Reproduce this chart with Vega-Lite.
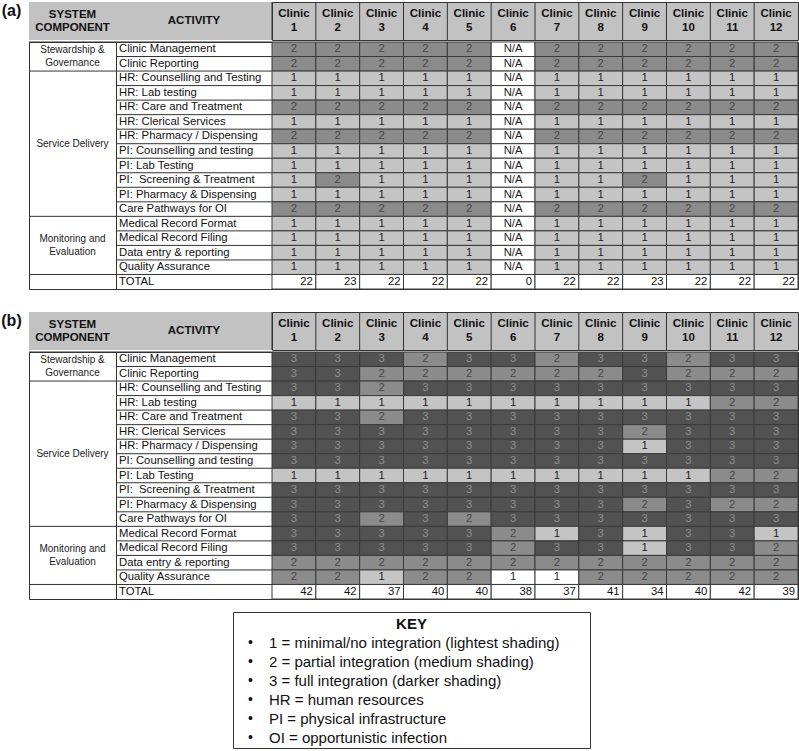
{
  "$schema": "https://vega.github.io/schema/vega-lite/v6.json",
  "padding": {"left": 0, "top": 1, "right": 0, "bottom": 0},
  "spacing": 0,
  "config": {"font": "Liberation Sans", "view": {"stroke": "#333333", "strokeWidth": 1}, "concat": {"spacing": 0}},
  "datasets": {
    "rows": [
      {"r": "Clinic Management", "g": "Stewardship & Governance"},
      {"r": "Clinic Reporting", "g": "Stewardship & Governance"},
      {"r": "HR: Counselling and Testing", "g": "Service Delivery"},
      {"r": "HR: Lab testing", "g": "Service Delivery"},
      {"r": "HR: Care and Treatment", "g": "Service Delivery"},
      {"r": "HR: Clerical Services", "g": "Service Delivery"},
      {"r": "HR: Pharmacy / Dispensing", "g": "Service Delivery"},
      {"r": "PI: Counselling and testing", "g": "Service Delivery"},
      {"r": "PI: Lab Testing", "g": "Service Delivery"},
      {"r": "PI:  Screening & Treatment", "g": "Service Delivery"},
      {"r": "PI: Pharmacy & Dispensing", "g": "Service Delivery"},
      {"r": "Care Pathways for OI", "g": "Service Delivery"},
      {"r": "Medical Record Format", "g": "Monitoring and Evaluation"},
      {"r": "Medical Record Filing", "g": "Monitoring and Evaluation"},
      {"r": "Data entry & reporting", "g": "Monitoring and Evaluation"},
      {"r": "Quality Assurance", "g": "Monitoring and Evaluation"},
      {"r": "TOTAL", "g": ""}
    ],
    "totals": [
      {"p": "a", "c": 1, "t": 22}, {"p": "a", "c": 2, "t": 23}, {"p": "a", "c": 3, "t": 22}, {"p": "a", "c": 4, "t": 22},
      {"p": "a", "c": 5, "t": 22}, {"p": "a", "c": 6, "t": 0}, {"p": "a", "c": 7, "t": 22}, {"p": "a", "c": 8, "t": 22},
      {"p": "a", "c": 9, "t": 23}, {"p": "a", "c": 10, "t": 22}, {"p": "a", "c": 11, "t": 22}, {"p": "a", "c": 12, "t": 22},
      {"p": "b", "c": 1, "t": 42}, {"p": "b", "c": 2, "t": 42}, {"p": "b", "c": 3, "t": 37}, {"p": "b", "c": 4, "t": 40},
      {"p": "b", "c": 5, "t": 40}, {"p": "b", "c": 6, "t": 38}, {"p": "b", "c": 7, "t": 37}, {"p": "b", "c": 8, "t": 41},
      {"p": "b", "c": 9, "t": 34}, {"p": "b", "c": 10, "t": 40}, {"p": "b", "c": 11, "t": 42}, {"p": "b", "c": 12, "t": 39}
    ],
    "key": [
      {"k": "1 = minimal/no integration (lightest shading)"},
      {"k": "2 = partial integration (medium shading)"},
      {"k": "3 = full integration (darker shading)"},
      {"k": "HR = human resources"},
      {"k": "PI = physical infrastructure"},
      {"k": "OI = opportunistic infection"}
    ],
    "cells": [
      {"p":"a","r":"Clinic Management","c":1,"v":"2"},{"p":"a","r":"Clinic Management","c":2,"v":"2"},{"p":"a","r":"Clinic Management","c":3,"v":"2"},{"p":"a","r":"Clinic Management","c":4,"v":"2"},{"p":"a","r":"Clinic Management","c":5,"v":"2"},{"p":"a","r":"Clinic Management","c":6,"v":"N/A"},{"p":"a","r":"Clinic Management","c":7,"v":"2"},{"p":"a","r":"Clinic Management","c":8,"v":"2"},{"p":"a","r":"Clinic Management","c":9,"v":"2"},{"p":"a","r":"Clinic Management","c":10,"v":"2"},{"p":"a","r":"Clinic Management","c":11,"v":"2"},{"p":"a","r":"Clinic Management","c":12,"v":"2"},
      {"p":"a","r":"Clinic Reporting","c":1,"v":"2"},{"p":"a","r":"Clinic Reporting","c":2,"v":"2"},{"p":"a","r":"Clinic Reporting","c":3,"v":"2"},{"p":"a","r":"Clinic Reporting","c":4,"v":"2"},{"p":"a","r":"Clinic Reporting","c":5,"v":"2"},{"p":"a","r":"Clinic Reporting","c":6,"v":"N/A"},{"p":"a","r":"Clinic Reporting","c":7,"v":"2"},{"p":"a","r":"Clinic Reporting","c":8,"v":"2"},{"p":"a","r":"Clinic Reporting","c":9,"v":"2"},{"p":"a","r":"Clinic Reporting","c":10,"v":"2"},{"p":"a","r":"Clinic Reporting","c":11,"v":"2"},{"p":"a","r":"Clinic Reporting","c":12,"v":"2"},
      {"p":"a","r":"HR: Counselling and Testing","c":1,"v":"1"},{"p":"a","r":"HR: Counselling and Testing","c":2,"v":"1"},{"p":"a","r":"HR: Counselling and Testing","c":3,"v":"1"},{"p":"a","r":"HR: Counselling and Testing","c":4,"v":"1"},{"p":"a","r":"HR: Counselling and Testing","c":5,"v":"1"},{"p":"a","r":"HR: Counselling and Testing","c":6,"v":"N/A"},{"p":"a","r":"HR: Counselling and Testing","c":7,"v":"1"},{"p":"a","r":"HR: Counselling and Testing","c":8,"v":"1"},{"p":"a","r":"HR: Counselling and Testing","c":9,"v":"1"},{"p":"a","r":"HR: Counselling and Testing","c":10,"v":"1"},{"p":"a","r":"HR: Counselling and Testing","c":11,"v":"1"},{"p":"a","r":"HR: Counselling and Testing","c":12,"v":"1"},
      {"p":"a","r":"HR: Lab testing","c":1,"v":"1"},{"p":"a","r":"HR: Lab testing","c":2,"v":"1"},{"p":"a","r":"HR: Lab testing","c":3,"v":"1"},{"p":"a","r":"HR: Lab testing","c":4,"v":"1"},{"p":"a","r":"HR: Lab testing","c":5,"v":"1"},{"p":"a","r":"HR: Lab testing","c":6,"v":"N/A"},{"p":"a","r":"HR: Lab testing","c":7,"v":"1"},{"p":"a","r":"HR: Lab testing","c":8,"v":"1"},{"p":"a","r":"HR: Lab testing","c":9,"v":"1"},{"p":"a","r":"HR: Lab testing","c":10,"v":"1"},{"p":"a","r":"HR: Lab testing","c":11,"v":"1"},{"p":"a","r":"HR: Lab testing","c":12,"v":"1"},
      {"p":"a","r":"HR: Care and Treatment","c":1,"v":"2"},{"p":"a","r":"HR: Care and Treatment","c":2,"v":"2"},{"p":"a","r":"HR: Care and Treatment","c":3,"v":"2"},{"p":"a","r":"HR: Care and Treatment","c":4,"v":"2"},{"p":"a","r":"HR: Care and Treatment","c":5,"v":"2"},{"p":"a","r":"HR: Care and Treatment","c":6,"v":"N/A"},{"p":"a","r":"HR: Care and Treatment","c":7,"v":"2"},{"p":"a","r":"HR: Care and Treatment","c":8,"v":"2"},{"p":"a","r":"HR: Care and Treatment","c":9,"v":"2"},{"p":"a","r":"HR: Care and Treatment","c":10,"v":"2"},{"p":"a","r":"HR: Care and Treatment","c":11,"v":"2"},{"p":"a","r":"HR: Care and Treatment","c":12,"v":"2"},
      {"p":"a","r":"HR: Clerical Services","c":1,"v":"1"},{"p":"a","r":"HR: Clerical Services","c":2,"v":"1"},{"p":"a","r":"HR: Clerical Services","c":3,"v":"1"},{"p":"a","r":"HR: Clerical Services","c":4,"v":"1"},{"p":"a","r":"HR: Clerical Services","c":5,"v":"1"},{"p":"a","r":"HR: Clerical Services","c":6,"v":"N/A"},{"p":"a","r":"HR: Clerical Services","c":7,"v":"1"},{"p":"a","r":"HR: Clerical Services","c":8,"v":"1"},{"p":"a","r":"HR: Clerical Services","c":9,"v":"1"},{"p":"a","r":"HR: Clerical Services","c":10,"v":"1"},{"p":"a","r":"HR: Clerical Services","c":11,"v":"1"},{"p":"a","r":"HR: Clerical Services","c":12,"v":"1"},
      {"p":"a","r":"HR: Pharmacy / Dispensing","c":1,"v":"2"},{"p":"a","r":"HR: Pharmacy / Dispensing","c":2,"v":"2"},{"p":"a","r":"HR: Pharmacy / Dispensing","c":3,"v":"2"},{"p":"a","r":"HR: Pharmacy / Dispensing","c":4,"v":"2"},{"p":"a","r":"HR: Pharmacy / Dispensing","c":5,"v":"2"},{"p":"a","r":"HR: Pharmacy / Dispensing","c":6,"v":"N/A"},{"p":"a","r":"HR: Pharmacy / Dispensing","c":7,"v":"2"},{"p":"a","r":"HR: Pharmacy / Dispensing","c":8,"v":"2"},{"p":"a","r":"HR: Pharmacy / Dispensing","c":9,"v":"2"},{"p":"a","r":"HR: Pharmacy / Dispensing","c":10,"v":"2"},{"p":"a","r":"HR: Pharmacy / Dispensing","c":11,"v":"2"},{"p":"a","r":"HR: Pharmacy / Dispensing","c":12,"v":"2"},
      {"p":"a","r":"PI: Counselling and testing","c":1,"v":"1"},{"p":"a","r":"PI: Counselling and testing","c":2,"v":"1"},{"p":"a","r":"PI: Counselling and testing","c":3,"v":"1"},{"p":"a","r":"PI: Counselling and testing","c":4,"v":"1"},{"p":"a","r":"PI: Counselling and testing","c":5,"v":"1"},{"p":"a","r":"PI: Counselling and testing","c":6,"v":"N/A"},{"p":"a","r":"PI: Counselling and testing","c":7,"v":"1"},{"p":"a","r":"PI: Counselling and testing","c":8,"v":"1"},{"p":"a","r":"PI: Counselling and testing","c":9,"v":"1"},{"p":"a","r":"PI: Counselling and testing","c":10,"v":"1"},{"p":"a","r":"PI: Counselling and testing","c":11,"v":"1"},{"p":"a","r":"PI: Counselling and testing","c":12,"v":"1"},
      {"p":"a","r":"PI: Lab Testing","c":1,"v":"1"},{"p":"a","r":"PI: Lab Testing","c":2,"v":"1"},{"p":"a","r":"PI: Lab Testing","c":3,"v":"1"},{"p":"a","r":"PI: Lab Testing","c":4,"v":"1"},{"p":"a","r":"PI: Lab Testing","c":5,"v":"1"},{"p":"a","r":"PI: Lab Testing","c":6,"v":"N/A"},{"p":"a","r":"PI: Lab Testing","c":7,"v":"1"},{"p":"a","r":"PI: Lab Testing","c":8,"v":"1"},{"p":"a","r":"PI: Lab Testing","c":9,"v":"1"},{"p":"a","r":"PI: Lab Testing","c":10,"v":"1"},{"p":"a","r":"PI: Lab Testing","c":11,"v":"1"},{"p":"a","r":"PI: Lab Testing","c":12,"v":"1"},
      {"p":"a","r":"PI:  Screening & Treatment","c":1,"v":"1"},{"p":"a","r":"PI:  Screening & Treatment","c":2,"v":"2"},{"p":"a","r":"PI:  Screening & Treatment","c":3,"v":"1"},{"p":"a","r":"PI:  Screening & Treatment","c":4,"v":"1"},{"p":"a","r":"PI:  Screening & Treatment","c":5,"v":"1"},{"p":"a","r":"PI:  Screening & Treatment","c":6,"v":"N/A"},{"p":"a","r":"PI:  Screening & Treatment","c":7,"v":"1"},{"p":"a","r":"PI:  Screening & Treatment","c":8,"v":"1"},{"p":"a","r":"PI:  Screening & Treatment","c":9,"v":"2"},{"p":"a","r":"PI:  Screening & Treatment","c":10,"v":"1"},{"p":"a","r":"PI:  Screening & Treatment","c":11,"v":"1"},{"p":"a","r":"PI:  Screening & Treatment","c":12,"v":"1"},
      {"p":"a","r":"PI: Pharmacy & Dispensing","c":1,"v":"1"},{"p":"a","r":"PI: Pharmacy & Dispensing","c":2,"v":"1"},{"p":"a","r":"PI: Pharmacy & Dispensing","c":3,"v":"1"},{"p":"a","r":"PI: Pharmacy & Dispensing","c":4,"v":"1"},{"p":"a","r":"PI: Pharmacy & Dispensing","c":5,"v":"1"},{"p":"a","r":"PI: Pharmacy & Dispensing","c":6,"v":"N/A"},{"p":"a","r":"PI: Pharmacy & Dispensing","c":7,"v":"1"},{"p":"a","r":"PI: Pharmacy & Dispensing","c":8,"v":"1"},{"p":"a","r":"PI: Pharmacy & Dispensing","c":9,"v":"1"},{"p":"a","r":"PI: Pharmacy & Dispensing","c":10,"v":"1"},{"p":"a","r":"PI: Pharmacy & Dispensing","c":11,"v":"1"},{"p":"a","r":"PI: Pharmacy & Dispensing","c":12,"v":"1"},
      {"p":"a","r":"Care Pathways for OI","c":1,"v":"2"},{"p":"a","r":"Care Pathways for OI","c":2,"v":"2"},{"p":"a","r":"Care Pathways for OI","c":3,"v":"2"},{"p":"a","r":"Care Pathways for OI","c":4,"v":"2"},{"p":"a","r":"Care Pathways for OI","c":5,"v":"2"},{"p":"a","r":"Care Pathways for OI","c":6,"v":"N/A"},{"p":"a","r":"Care Pathways for OI","c":7,"v":"2"},{"p":"a","r":"Care Pathways for OI","c":8,"v":"2"},{"p":"a","r":"Care Pathways for OI","c":9,"v":"2"},{"p":"a","r":"Care Pathways for OI","c":10,"v":"2"},{"p":"a","r":"Care Pathways for OI","c":11,"v":"2"},{"p":"a","r":"Care Pathways for OI","c":12,"v":"2"},
      {"p":"a","r":"Medical Record Format","c":1,"v":"1"},{"p":"a","r":"Medical Record Format","c":2,"v":"1"},{"p":"a","r":"Medical Record Format","c":3,"v":"1"},{"p":"a","r":"Medical Record Format","c":4,"v":"1"},{"p":"a","r":"Medical Record Format","c":5,"v":"1"},{"p":"a","r":"Medical Record Format","c":6,"v":"N/A"},{"p":"a","r":"Medical Record Format","c":7,"v":"1"},{"p":"a","r":"Medical Record Format","c":8,"v":"1"},{"p":"a","r":"Medical Record Format","c":9,"v":"1"},{"p":"a","r":"Medical Record Format","c":10,"v":"1"},{"p":"a","r":"Medical Record Format","c":11,"v":"1"},{"p":"a","r":"Medical Record Format","c":12,"v":"1"},
      {"p":"a","r":"Medical Record Filing","c":1,"v":"1"},{"p":"a","r":"Medical Record Filing","c":2,"v":"1"},{"p":"a","r":"Medical Record Filing","c":3,"v":"1"},{"p":"a","r":"Medical Record Filing","c":4,"v":"1"},{"p":"a","r":"Medical Record Filing","c":5,"v":"1"},{"p":"a","r":"Medical Record Filing","c":6,"v":"N/A"},{"p":"a","r":"Medical Record Filing","c":7,"v":"1"},{"p":"a","r":"Medical Record Filing","c":8,"v":"1"},{"p":"a","r":"Medical Record Filing","c":9,"v":"1"},{"p":"a","r":"Medical Record Filing","c":10,"v":"1"},{"p":"a","r":"Medical Record Filing","c":11,"v":"1"},{"p":"a","r":"Medical Record Filing","c":12,"v":"1"},
      {"p":"a","r":"Data entry & reporting","c":1,"v":"1"},{"p":"a","r":"Data entry & reporting","c":2,"v":"1"},{"p":"a","r":"Data entry & reporting","c":3,"v":"1"},{"p":"a","r":"Data entry & reporting","c":4,"v":"1"},{"p":"a","r":"Data entry & reporting","c":5,"v":"1"},{"p":"a","r":"Data entry & reporting","c":6,"v":"N/A"},{"p":"a","r":"Data entry & reporting","c":7,"v":"1"},{"p":"a","r":"Data entry & reporting","c":8,"v":"1"},{"p":"a","r":"Data entry & reporting","c":9,"v":"1"},{"p":"a","r":"Data entry & reporting","c":10,"v":"1"},{"p":"a","r":"Data entry & reporting","c":11,"v":"1"},{"p":"a","r":"Data entry & reporting","c":12,"v":"1"},
      {"p":"a","r":"Quality Assurance","c":1,"v":"1"},{"p":"a","r":"Quality Assurance","c":2,"v":"1"},{"p":"a","r":"Quality Assurance","c":3,"v":"1"},{"p":"a","r":"Quality Assurance","c":4,"v":"1"},{"p":"a","r":"Quality Assurance","c":5,"v":"1"},{"p":"a","r":"Quality Assurance","c":6,"v":"N/A"},{"p":"a","r":"Quality Assurance","c":7,"v":"1"},{"p":"a","r":"Quality Assurance","c":8,"v":"1"},{"p":"a","r":"Quality Assurance","c":9,"v":"1"},{"p":"a","r":"Quality Assurance","c":10,"v":"1"},{"p":"a","r":"Quality Assurance","c":11,"v":"1"},{"p":"a","r":"Quality Assurance","c":12,"v":"1"},

      {"p":"b","r":"Clinic Management","c":1,"v":"3"},{"p":"b","r":"Clinic Management","c":2,"v":"3"},{"p":"b","r":"Clinic Management","c":3,"v":"3"},{"p":"b","r":"Clinic Management","c":4,"v":"2"},{"p":"b","r":"Clinic Management","c":5,"v":"3"},{"p":"b","r":"Clinic Management","c":6,"v":"3"},{"p":"b","r":"Clinic Management","c":7,"v":"2"},{"p":"b","r":"Clinic Management","c":8,"v":"3"},{"p":"b","r":"Clinic Management","c":9,"v":"3"},{"p":"b","r":"Clinic Management","c":10,"v":"2"},{"p":"b","r":"Clinic Management","c":11,"v":"3"},{"p":"b","r":"Clinic Management","c":12,"v":"3"},
      {"p":"b","r":"Clinic Reporting","c":1,"v":"3"},{"p":"b","r":"Clinic Reporting","c":2,"v":"3"},{"p":"b","r":"Clinic Reporting","c":3,"v":"2"},{"p":"b","r":"Clinic Reporting","c":4,"v":"2"},{"p":"b","r":"Clinic Reporting","c":5,"v":"2"},{"p":"b","r":"Clinic Reporting","c":6,"v":"2"},{"p":"b","r":"Clinic Reporting","c":7,"v":"2"},{"p":"b","r":"Clinic Reporting","c":8,"v":"2"},{"p":"b","r":"Clinic Reporting","c":9,"v":"3"},{"p":"b","r":"Clinic Reporting","c":10,"v":"2"},{"p":"b","r":"Clinic Reporting","c":11,"v":"2"},{"p":"b","r":"Clinic Reporting","c":12,"v":"2"},
      {"p":"b","r":"HR: Counselling and Testing","c":1,"v":"3"},{"p":"b","r":"HR: Counselling and Testing","c":2,"v":"3"},{"p":"b","r":"HR: Counselling and Testing","c":3,"v":"2"},{"p":"b","r":"HR: Counselling and Testing","c":4,"v":"3"},{"p":"b","r":"HR: Counselling and Testing","c":5,"v":"3"},{"p":"b","r":"HR: Counselling and Testing","c":6,"v":"3"},{"p":"b","r":"HR: Counselling and Testing","c":7,"v":"3"},{"p":"b","r":"HR: Counselling and Testing","c":8,"v":"3"},{"p":"b","r":"HR: Counselling and Testing","c":9,"v":"3"},{"p":"b","r":"HR: Counselling and Testing","c":10,"v":"3"},{"p":"b","r":"HR: Counselling and Testing","c":11,"v":"3"},{"p":"b","r":"HR: Counselling and Testing","c":12,"v":"3"},
      {"p":"b","r":"HR: Lab testing","c":1,"v":"1"},{"p":"b","r":"HR: Lab testing","c":2,"v":"1"},{"p":"b","r":"HR: Lab testing","c":3,"v":"1"},{"p":"b","r":"HR: Lab testing","c":4,"v":"1"},{"p":"b","r":"HR: Lab testing","c":5,"v":"1"},{"p":"b","r":"HR: Lab testing","c":6,"v":"1"},{"p":"b","r":"HR: Lab testing","c":7,"v":"1"},{"p":"b","r":"HR: Lab testing","c":8,"v":"1"},{"p":"b","r":"HR: Lab testing","c":9,"v":"1"},{"p":"b","r":"HR: Lab testing","c":10,"v":"1"},{"p":"b","r":"HR: Lab testing","c":11,"v":"2"},{"p":"b","r":"HR: Lab testing","c":12,"v":"2"},
      {"p":"b","r":"HR: Care and Treatment","c":1,"v":"3"},{"p":"b","r":"HR: Care and Treatment","c":2,"v":"3"},{"p":"b","r":"HR: Care and Treatment","c":3,"v":"2"},{"p":"b","r":"HR: Care and Treatment","c":4,"v":"3"},{"p":"b","r":"HR: Care and Treatment","c":5,"v":"3"},{"p":"b","r":"HR: Care and Treatment","c":6,"v":"3"},{"p":"b","r":"HR: Care and Treatment","c":7,"v":"3"},{"p":"b","r":"HR: Care and Treatment","c":8,"v":"3"},{"p":"b","r":"HR: Care and Treatment","c":9,"v":"3"},{"p":"b","r":"HR: Care and Treatment","c":10,"v":"3"},{"p":"b","r":"HR: Care and Treatment","c":11,"v":"3"},{"p":"b","r":"HR: Care and Treatment","c":12,"v":"3"},
      {"p":"b","r":"HR: Clerical Services","c":1,"v":"3"},{"p":"b","r":"HR: Clerical Services","c":2,"v":"3"},{"p":"b","r":"HR: Clerical Services","c":3,"v":"3"},{"p":"b","r":"HR: Clerical Services","c":4,"v":"3"},{"p":"b","r":"HR: Clerical Services","c":5,"v":"3"},{"p":"b","r":"HR: Clerical Services","c":6,"v":"3"},{"p":"b","r":"HR: Clerical Services","c":7,"v":"3"},{"p":"b","r":"HR: Clerical Services","c":8,"v":"3"},{"p":"b","r":"HR: Clerical Services","c":9,"v":"2"},{"p":"b","r":"HR: Clerical Services","c":10,"v":"3"},{"p":"b","r":"HR: Clerical Services","c":11,"v":"3"},{"p":"b","r":"HR: Clerical Services","c":12,"v":"3"},
      {"p":"b","r":"HR: Pharmacy / Dispensing","c":1,"v":"3"},{"p":"b","r":"HR: Pharmacy / Dispensing","c":2,"v":"3"},{"p":"b","r":"HR: Pharmacy / Dispensing","c":3,"v":"3"},{"p":"b","r":"HR: Pharmacy / Dispensing","c":4,"v":"3"},{"p":"b","r":"HR: Pharmacy / Dispensing","c":5,"v":"3"},{"p":"b","r":"HR: Pharmacy / Dispensing","c":6,"v":"3"},{"p":"b","r":"HR: Pharmacy / Dispensing","c":7,"v":"3"},{"p":"b","r":"HR: Pharmacy / Dispensing","c":8,"v":"3"},{"p":"b","r":"HR: Pharmacy / Dispensing","c":9,"v":"1"},{"p":"b","r":"HR: Pharmacy / Dispensing","c":10,"v":"3"},{"p":"b","r":"HR: Pharmacy / Dispensing","c":11,"v":"3"},{"p":"b","r":"HR: Pharmacy / Dispensing","c":12,"v":"3"},
      {"p":"b","r":"PI: Counselling and testing","c":1,"v":"3"},{"p":"b","r":"PI: Counselling and testing","c":2,"v":"3"},{"p":"b","r":"PI: Counselling and testing","c":3,"v":"3"},{"p":"b","r":"PI: Counselling and testing","c":4,"v":"3"},{"p":"b","r":"PI: Counselling and testing","c":5,"v":"3"},{"p":"b","r":"PI: Counselling and testing","c":6,"v":"3"},{"p":"b","r":"PI: Counselling and testing","c":7,"v":"3"},{"p":"b","r":"PI: Counselling and testing","c":8,"v":"3"},{"p":"b","r":"PI: Counselling and testing","c":9,"v":"3"},{"p":"b","r":"PI: Counselling and testing","c":10,"v":"3"},{"p":"b","r":"PI: Counselling and testing","c":11,"v":"3"},{"p":"b","r":"PI: Counselling and testing","c":12,"v":"3"},
      {"p":"b","r":"PI: Lab Testing","c":1,"v":"1"},{"p":"b","r":"PI: Lab Testing","c":2,"v":"1"},{"p":"b","r":"PI: Lab Testing","c":3,"v":"1"},{"p":"b","r":"PI: Lab Testing","c":4,"v":"1"},{"p":"b","r":"PI: Lab Testing","c":5,"v":"1"},{"p":"b","r":"PI: Lab Testing","c":6,"v":"1"},{"p":"b","r":"PI: Lab Testing","c":7,"v":"1"},{"p":"b","r":"PI: Lab Testing","c":8,"v":"1"},{"p":"b","r":"PI: Lab Testing","c":9,"v":"1"},{"p":"b","r":"PI: Lab Testing","c":10,"v":"1"},{"p":"b","r":"PI: Lab Testing","c":11,"v":"2"},{"p":"b","r":"PI: Lab Testing","c":12,"v":"2"},
      {"p":"b","r":"PI:  Screening & Treatment","c":1,"v":"3"},{"p":"b","r":"PI:  Screening & Treatment","c":2,"v":"3"},{"p":"b","r":"PI:  Screening & Treatment","c":3,"v":"3"},{"p":"b","r":"PI:  Screening & Treatment","c":4,"v":"3"},{"p":"b","r":"PI:  Screening & Treatment","c":5,"v":"3"},{"p":"b","r":"PI:  Screening & Treatment","c":6,"v":"3"},{"p":"b","r":"PI:  Screening & Treatment","c":7,"v":"3"},{"p":"b","r":"PI:  Screening & Treatment","c":8,"v":"3"},{"p":"b","r":"PI:  Screening & Treatment","c":9,"v":"3"},{"p":"b","r":"PI:  Screening & Treatment","c":10,"v":"3"},{"p":"b","r":"PI:  Screening & Treatment","c":11,"v":"3"},{"p":"b","r":"PI:  Screening & Treatment","c":12,"v":"3"},
      {"p":"b","r":"PI: Pharmacy & Dispensing","c":1,"v":"3"},{"p":"b","r":"PI: Pharmacy & Dispensing","c":2,"v":"3"},{"p":"b","r":"PI: Pharmacy & Dispensing","c":3,"v":"3"},{"p":"b","r":"PI: Pharmacy & Dispensing","c":4,"v":"3"},{"p":"b","r":"PI: Pharmacy & Dispensing","c":5,"v":"3"},{"p":"b","r":"PI: Pharmacy & Dispensing","c":6,"v":"3"},{"p":"b","r":"PI: Pharmacy & Dispensing","c":7,"v":"3"},{"p":"b","r":"PI: Pharmacy & Dispensing","c":8,"v":"3"},{"p":"b","r":"PI: Pharmacy & Dispensing","c":9,"v":"2"},{"p":"b","r":"PI: Pharmacy & Dispensing","c":10,"v":"3"},{"p":"b","r":"PI: Pharmacy & Dispensing","c":11,"v":"2"},{"p":"b","r":"PI: Pharmacy & Dispensing","c":12,"v":"2"},
      {"p":"b","r":"Care Pathways for OI","c":1,"v":"3"},{"p":"b","r":"Care Pathways for OI","c":2,"v":"3"},{"p":"b","r":"Care Pathways for OI","c":3,"v":"2"},{"p":"b","r":"Care Pathways for OI","c":4,"v":"3"},{"p":"b","r":"Care Pathways for OI","c":5,"v":"2"},{"p":"b","r":"Care Pathways for OI","c":6,"v":"3"},{"p":"b","r":"Care Pathways for OI","c":7,"v":"3"},{"p":"b","r":"Care Pathways for OI","c":8,"v":"3"},{"p":"b","r":"Care Pathways for OI","c":9,"v":"3"},{"p":"b","r":"Care Pathways for OI","c":10,"v":"3"},{"p":"b","r":"Care Pathways for OI","c":11,"v":"3"},{"p":"b","r":"Care Pathways for OI","c":12,"v":"3"},
      {"p":"b","r":"Medical Record Format","c":1,"v":"3"},{"p":"b","r":"Medical Record Format","c":2,"v":"3"},{"p":"b","r":"Medical Record Format","c":3,"v":"3"},{"p":"b","r":"Medical Record Format","c":4,"v":"3"},{"p":"b","r":"Medical Record Format","c":5,"v":"3"},{"p":"b","r":"Medical Record Format","c":6,"v":"2"},{"p":"b","r":"Medical Record Format","c":7,"v":"1"},{"p":"b","r":"Medical Record Format","c":8,"v":"3"},{"p":"b","r":"Medical Record Format","c":9,"v":"1"},{"p":"b","r":"Medical Record Format","c":10,"v":"3"},{"p":"b","r":"Medical Record Format","c":11,"v":"3"},{"p":"b","r":"Medical Record Format","c":12,"v":"1"},
      {"p":"b","r":"Medical Record Filing","c":1,"v":"3"},{"p":"b","r":"Medical Record Filing","c":2,"v":"3"},{"p":"b","r":"Medical Record Filing","c":3,"v":"3"},{"p":"b","r":"Medical Record Filing","c":4,"v":"3"},{"p":"b","r":"Medical Record Filing","c":5,"v":"3"},{"p":"b","r":"Medical Record Filing","c":6,"v":"2"},{"p":"b","r":"Medical Record Filing","c":7,"v":"3"},{"p":"b","r":"Medical Record Filing","c":8,"v":"3"},{"p":"b","r":"Medical Record Filing","c":9,"v":"1"},{"p":"b","r":"Medical Record Filing","c":10,"v":"3"},{"p":"b","r":"Medical Record Filing","c":11,"v":"3"},{"p":"b","r":"Medical Record Filing","c":12,"v":"2"},
      {"p":"b","r":"Data entry & reporting","c":1,"v":"2"},{"p":"b","r":"Data entry & reporting","c":2,"v":"2"},{"p":"b","r":"Data entry & reporting","c":3,"v":"2"},{"p":"b","r":"Data entry & reporting","c":4,"v":"2"},{"p":"b","r":"Data entry & reporting","c":5,"v":"2"},{"p":"b","r":"Data entry & reporting","c":6,"v":"2"},{"p":"b","r":"Data entry & reporting","c":7,"v":"2"},{"p":"b","r":"Data entry & reporting","c":8,"v":"2"},{"p":"b","r":"Data entry & reporting","c":9,"v":"2"},{"p":"b","r":"Data entry & reporting","c":10,"v":"2"},{"p":"b","r":"Data entry & reporting","c":11,"v":"2"},{"p":"b","r":"Data entry & reporting","c":12,"v":"2"},
      {"p":"b","r":"Quality Assurance","c":1,"v":"2"},{"p":"b","r":"Quality Assurance","c":2,"v":"2"},{"p":"b","r":"Quality Assurance","c":3,"v":"1"},{"p":"b","r":"Quality Assurance","c":4,"v":"2"},{"p":"b","r":"Quality Assurance","c":5,"v":"2"},{"p":"b","r":"Quality Assurance","c":6,"v":"1","u":true},{"p":"b","r":"Quality Assurance","c":7,"v":"1","u":true},{"p":"b","r":"Quality Assurance","c":8,"v":"2"},{"p":"b","r":"Quality Assurance","c":9,"v":"2"},{"p":"b","r":"Quality Assurance","c":10,"v":"2"},{"p":"b","r":"Quality Assurance","c":11,"v":"2"},{"p":"b","r":"Quality Assurance","c":12,"v":"2"}
    ]
  },
  "vconcat": [
    {"spacing": 0, "bounds": "flush", "hconcat": [
      {"width": 29, "height": 38, "view": {"stroke": null}, "data": {"values": [{"l": "(a)"}]},
       "mark": {"type": "text", "fontSize": 16, "fontWeight": "bold", "dx": -3, "dy": -10, "color": "#111"},
       "encoding": {"text": {"field": "l"}}},
      {"width": 87, "height": 38, "view": {"fill": "#c2c2c2"}, "data": {"values": [{}]},
       "mark": {"type": "text", "fontSize": 11.5, "fontWeight": "bold", "lineBreak": "\n", "lineHeight": 12.5, "dy": -6, "color": "#111"},
       "encoding": {"text": {"value": "SYSTEM\nCOMPONENT"}}},
      {"width": 156, "height": 38, "view": {"fill": "#c2c2c2"}, "data": {"values": [{}]},
       "mark": {"type": "text", "fontSize": 11.5, "fontWeight": "bold", "color": "#111"},
       "encoding": {"text": {"value": "ACTIVITY"}}},
      {"width": 526, "height": 38, "view": {"fill": "#c2c2c2"}, "data": {"name": "totals"},
       "transform": [{"filter": "datum.p == 'a'"}, {"calculate": "'Clinic\\n' + datum.c", "as": "h"}],
       "layer": [
         {"mark": {"type": "rule", "color": "#333333"},
          "encoding": {"x": {"field": "c", "type": "ordinal", "bandPosition": 0, "scale": {"type": "band", "domain": [1,2,3,4,5,6,7,8,9,10,11,12], "paddingInner": 0, "paddingOuter": 0}, "axis": null}}},
         {"mark": {"type": "text", "fontSize": 11.5, "fontWeight": "bold", "lineBreak": "\n", "lineHeight": 14, "dy": -7, "color": "#111"},
          "encoding": {"x": {"field": "c", "type": "ordinal", "axis": null}, "text": {"field": "h"}}}
       ]}
    ]},
    {"spacing": 0, "bounds": "flush", "hconcat": [
      {"width": 29, "height": 247, "view": {"stroke": null}, "data": {"values": [{}]}, "mark": "text", "encoding": {"text": {"value": ""}}},
      {"width": 87, "height": 247, "data": {"name": "rows"},
       "transform": [{"window": [{"op": "row_number", "as": "rn"}], "groupby": ["g"]}, {"joinaggregate": [{"op": "count", "as": "n"}], "groupby": ["g"]},
                     {"calculate": "replace(replace(datum.g, ' Governance', '\\nGovernance'), ' Evaluation', '\\nEvaluation')", "as": "lbl"}],
       "layer": [
         {"transform": [{"filter": "datum.rn == 1"}], "mark": {"type": "rule", "color": "#333333"},
          "encoding": {"y": {"field": "r", "type": "nominal", "bandPosition": 0, "axis": null, "scale": {"type": "band", "domain": ["Clinic Management","Clinic Reporting","HR: Counselling and Testing","HR: Lab testing","HR: Care and Treatment","HR: Clerical Services","HR: Pharmacy / Dispensing","PI: Counselling and testing","PI: Lab Testing","PI:  Screening & Treatment","PI: Pharmacy & Dispensing","Care Pathways for OI","Medical Record Format","Medical Record Filing","Data entry & reporting","Quality Assurance","TOTAL"], "paddingInner": 0, "paddingOuter": 0}}}},
         {"transform": [{"filter": "datum.n > 1 && datum.rn == datum.n / 2 && indexof(datum.lbl, '\\n') >= 0"}],
          "mark": {"type": "text", "fontSize": 10, "lineBreak": "\n", "lineHeight": 12.5, "baseline": "middle", "dy": -6.25, "color": "#222"},
          "encoding": {"y": {"field": "r", "type": "nominal", "bandPosition": 1, "axis": null}, "text": {"field": "lbl"}}},
         {"transform": [{"filter": "datum.n > 1 && datum.rn == datum.n / 2 && indexof(datum.lbl, '\\n') < 0"}],
          "mark": {"type": "text", "fontSize": 10, "baseline": "middle", "color": "#222"},
          "encoding": {"y": {"field": "r", "type": "nominal", "bandPosition": 1, "axis": null}, "text": {"field": "lbl"}}}
       ]},
      {"width": 156, "height": 247, "data": {"name": "rows"},
       "transform": [{"calculate": "replace(datum.r, '  ', '\u00a0 ')", "as": "shown"}],
       "layer": [
         {"mark": {"type": "rule", "color": "#333333"},
          "encoding": {"y": {"field": "r", "type": "nominal", "bandPosition": 0, "axis": null, "scale": {"type": "band", "domain": ["Clinic Management","Clinic Reporting","HR: Counselling and Testing","HR: Lab testing","HR: Care and Treatment","HR: Clerical Services","HR: Pharmacy / Dispensing","PI: Counselling and testing","PI: Lab Testing","PI:  Screening & Treatment","PI: Pharmacy & Dispensing","Care Pathways for OI","Medical Record Format","Medical Record Filing","Data entry & reporting","Quality Assurance","TOTAL"], "paddingInner": 0, "paddingOuter": 0}}}},
         {"mark": {"type": "text", "align": "left", "baseline": "middle", "fontSize": 11.3, "dx": 3, "color": "#111"},
          "encoding": {"x": {"datum": "activity", "type": "nominal", "bandPosition": 0, "axis": null, "scale": {"type": "band", "paddingInner": 0, "paddingOuter": 0}},
                       "y": {"field": "r", "type": "nominal", "axis": null}, "text": {"field": "shown"}}}
       ]},
      {"width": 526, "height": 247,
       "layer": [
         {"data": {"name": "cells"}, "transform": [{"filter": "datum.p == 'a'"}],
          "mark": {"type": "rect", "stroke": "#3a3a3a", "strokeWidth": 1},
          "encoding": {"x": {"field": "c", "type": "ordinal", "axis": null, "scale": {"type": "band", "domain": [1,2,3,4,5,6,7,8,9,10,11,12], "paddingInner": 0, "paddingOuter": 0}},
                       "y": {"field": "r", "type": "nominal", "axis": null, "scale": {"type": "band", "domain": ["Clinic Management","Clinic Reporting","HR: Counselling and Testing","HR: Lab testing","HR: Care and Treatment","HR: Clerical Services","HR: Pharmacy / Dispensing","PI: Counselling and testing","PI: Lab Testing","PI:  Screening & Treatment","PI: Pharmacy & Dispensing","Care Pathways for OI","Medical Record Format","Medical Record Filing","Data entry & reporting","Quality Assurance","TOTAL"], "paddingInner": 0, "paddingOuter": 0}},
                       "fill": {"condition": {"test": "datum.u === true", "value": "#ffffff"}, "field": "v", "type": "nominal", "legend": null, "scale": {"domain": ["1","2","3","N/A"], "range": ["#c4c4c4","#8b8b8b","#525252","#ffffff"]}}}},
         {"data": {"name": "cells"}, "transform": [{"filter": "datum.p == 'a'"}],
          "mark": {"type": "text", "fontSize": 11.3, "baseline": "middle"},
          "encoding": {"x": {"field": "c", "type": "ordinal", "axis": null}, "y": {"field": "r", "type": "nominal", "axis": null},
                       "text": {"field": "v"},
                       "color": {"field": "v", "type": "nominal", "legend": null, "scale": {"domain": ["1","2","3","N/A"], "range": ["#1e1e1e","#474747","#8e8e8e","#1e1e1e"]}}}},
         {"data": {"name": "totals"}, "transform": [{"filter": "datum.p == 'a'"}],
          "mark": {"type": "rect", "fill": "#ffffff", "stroke": "#3a3a3a", "strokeWidth": 1},
          "encoding": {"x": {"field": "c", "type": "ordinal", "axis": null}, "y": {"datum": "TOTAL", "type": "nominal", "axis": null}}},
         {"data": {"name": "totals"}, "transform": [{"filter": "datum.p == 'a'"}],
          "mark": {"type": "text", "fontSize": 11.3, "align": "right", "baseline": "middle", "dx": -3, "color": "#111"},
          "encoding": {"x": {"field": "c", "type": "ordinal", "axis": null, "bandPosition": 1}, "y": {"datum": "TOTAL", "type": "nominal", "axis": null}, "text": {"field": "t"}}}
       ]}
    ]},
    {"width": 1, "height": 21, "view": {"stroke": null}, "data": {"values": [{}]}, "mark": "text", "encoding": {"text": {"value": ""}}},
    {"spacing": 0, "bounds": "flush", "hconcat": [
      {"width": 29, "height": 38, "view": {"stroke": null}, "data": {"values": [{"l": "(b)"}]},
       "mark": {"type": "text", "fontSize": 16, "fontWeight": "bold", "dx": -3, "dy": -10, "color": "#111"},
       "encoding": {"text": {"field": "l"}}},
      {"width": 87, "height": 38, "view": {"fill": "#c2c2c2"}, "data": {"values": [{}]},
       "mark": {"type": "text", "fontSize": 11.5, "fontWeight": "bold", "lineBreak": "\n", "lineHeight": 12.5, "dy": -6, "color": "#111"},
       "encoding": {"text": {"value": "SYSTEM\nCOMPONENT"}}},
      {"width": 156, "height": 38, "view": {"fill": "#c2c2c2"}, "data": {"values": [{}]},
       "mark": {"type": "text", "fontSize": 11.5, "fontWeight": "bold", "color": "#111"},
       "encoding": {"text": {"value": "ACTIVITY"}}},
      {"width": 526, "height": 38, "view": {"fill": "#c2c2c2"}, "data": {"name": "totals"},
       "transform": [{"filter": "datum.p == 'b'"}, {"calculate": "'Clinic\\n' + datum.c", "as": "h"}],
       "layer": [
         {"mark": {"type": "rule", "color": "#333333"},
          "encoding": {"x": {"field": "c", "type": "ordinal", "bandPosition": 0, "scale": {"type": "band", "domain": [1,2,3,4,5,6,7,8,9,10,11,12], "paddingInner": 0, "paddingOuter": 0}, "axis": null}}},
         {"mark": {"type": "text", "fontSize": 11.5, "fontWeight": "bold", "lineBreak": "\n", "lineHeight": 14, "dy": -7, "color": "#111"},
          "encoding": {"x": {"field": "c", "type": "ordinal", "axis": null}, "text": {"field": "h"}}}
       ]}
    ]},
    {"spacing": 0, "bounds": "flush", "hconcat": [
      {"width": 29, "height": 247, "view": {"stroke": null}, "data": {"values": [{}]}, "mark": "text", "encoding": {"text": {"value": ""}}},
      {"width": 87, "height": 247, "data": {"name": "rows"},
       "transform": [{"window": [{"op": "row_number", "as": "rn"}], "groupby": ["g"]}, {"joinaggregate": [{"op": "count", "as": "n"}], "groupby": ["g"]},
                     {"calculate": "replace(replace(datum.g, ' Governance', '\\nGovernance'), ' Evaluation', '\\nEvaluation')", "as": "lbl"}],
       "layer": [
         {"transform": [{"filter": "datum.rn == 1"}], "mark": {"type": "rule", "color": "#333333"},
          "encoding": {"y": {"field": "r", "type": "nominal", "bandPosition": 0, "axis": null, "scale": {"type": "band", "domain": ["Clinic Management","Clinic Reporting","HR: Counselling and Testing","HR: Lab testing","HR: Care and Treatment","HR: Clerical Services","HR: Pharmacy / Dispensing","PI: Counselling and testing","PI: Lab Testing","PI:  Screening & Treatment","PI: Pharmacy & Dispensing","Care Pathways for OI","Medical Record Format","Medical Record Filing","Data entry & reporting","Quality Assurance","TOTAL"], "paddingInner": 0, "paddingOuter": 0}}}},
         {"transform": [{"filter": "datum.n > 1 && datum.rn == datum.n / 2 && indexof(datum.lbl, '\\n') >= 0"}],
          "mark": {"type": "text", "fontSize": 10, "lineBreak": "\n", "lineHeight": 12.5, "baseline": "middle", "dy": -6.25, "color": "#222"},
          "encoding": {"y": {"field": "r", "type": "nominal", "bandPosition": 1, "axis": null}, "text": {"field": "lbl"}}},
         {"transform": [{"filter": "datum.n > 1 && datum.rn == datum.n / 2 && indexof(datum.lbl, '\\n') < 0"}],
          "mark": {"type": "text", "fontSize": 10, "baseline": "middle", "color": "#222"},
          "encoding": {"y": {"field": "r", "type": "nominal", "bandPosition": 1, "axis": null}, "text": {"field": "lbl"}}}
       ]},
      {"width": 156, "height": 247, "data": {"name": "rows"},
       "transform": [{"calculate": "replace(datum.r, '  ', '\u00a0 ')", "as": "shown"}],
       "layer": [
         {"mark": {"type": "rule", "color": "#333333"},
          "encoding": {"y": {"field": "r", "type": "nominal", "bandPosition": 0, "axis": null, "scale": {"type": "band", "domain": ["Clinic Management","Clinic Reporting","HR: Counselling and Testing","HR: Lab testing","HR: Care and Treatment","HR: Clerical Services","HR: Pharmacy / Dispensing","PI: Counselling and testing","PI: Lab Testing","PI:  Screening & Treatment","PI: Pharmacy & Dispensing","Care Pathways for OI","Medical Record Format","Medical Record Filing","Data entry & reporting","Quality Assurance","TOTAL"], "paddingInner": 0, "paddingOuter": 0}}}},
         {"mark": {"type": "text", "align": "left", "baseline": "middle", "fontSize": 11.3, "dx": 3, "color": "#111"},
          "encoding": {"x": {"datum": "activity", "type": "nominal", "bandPosition": 0, "axis": null, "scale": {"type": "band", "paddingInner": 0, "paddingOuter": 0}},
                       "y": {"field": "r", "type": "nominal", "axis": null}, "text": {"field": "shown"}}}
       ]},
      {"width": 526, "height": 247,
       "layer": [
         {"data": {"name": "cells"}, "transform": [{"filter": "datum.p == 'b'"}],
          "mark": {"type": "rect", "stroke": "#3a3a3a", "strokeWidth": 1},
          "encoding": {"x": {"field": "c", "type": "ordinal", "axis": null, "scale": {"type": "band", "domain": [1,2,3,4,5,6,7,8,9,10,11,12], "paddingInner": 0, "paddingOuter": 0}},
                       "y": {"field": "r", "type": "nominal", "axis": null, "scale": {"type": "band", "domain": ["Clinic Management","Clinic Reporting","HR: Counselling and Testing","HR: Lab testing","HR: Care and Treatment","HR: Clerical Services","HR: Pharmacy / Dispensing","PI: Counselling and testing","PI: Lab Testing","PI:  Screening & Treatment","PI: Pharmacy & Dispensing","Care Pathways for OI","Medical Record Format","Medical Record Filing","Data entry & reporting","Quality Assurance","TOTAL"], "paddingInner": 0, "paddingOuter": 0}},
                       "fill": {"condition": {"test": "datum.u === true", "value": "#ffffff"}, "field": "v", "type": "nominal", "legend": null, "scale": {"domain": ["1","2","3","N/A"], "range": ["#c4c4c4","#8b8b8b","#525252","#ffffff"]}}}},
         {"data": {"name": "cells"}, "transform": [{"filter": "datum.p == 'b'"}],
          "mark": {"type": "text", "fontSize": 11.3, "baseline": "middle"},
          "encoding": {"x": {"field": "c", "type": "ordinal", "axis": null}, "y": {"field": "r", "type": "nominal", "axis": null},
                       "text": {"field": "v"},
                       "color": {"field": "v", "type": "nominal", "legend": null, "scale": {"domain": ["1","2","3","N/A"], "range": ["#1e1e1e","#474747","#8e8e8e","#1e1e1e"]}}}},
         {"data": {"name": "totals"}, "transform": [{"filter": "datum.p == 'b'"}],
          "mark": {"type": "rect", "fill": "#ffffff", "stroke": "#3a3a3a", "strokeWidth": 1},
          "encoding": {"x": {"field": "c", "type": "ordinal", "axis": null}, "y": {"datum": "TOTAL", "type": "nominal", "axis": null}}},
         {"data": {"name": "totals"}, "transform": [{"filter": "datum.p == 'b'"}],
          "mark": {"type": "text", "fontSize": 11.3, "align": "right", "baseline": "middle", "dx": -3, "color": "#111"},
          "encoding": {"x": {"field": "c", "type": "ordinal", "axis": null, "bandPosition": 1}, "y": {"datum": "TOTAL", "type": "nominal", "axis": null}, "text": {"field": "t"}}}
       ]}
    ]},
    {"width": 1, "height": 10, "view": {"stroke": null}, "data": {"values": [{}]}, "mark": "text", "encoding": {"text": {"value": ""}}},
    {"spacing": 0, "bounds": "flush", "hconcat": [
      {"width": 233, "height": 136, "view": {"stroke": null}, "data": {"values": [{}]}, "mark": "text", "encoding": {"text": {"value": ""}}},
      {"width": 357, "height": 136,
       "layer": [
         {"data": {"values": [{"k": "KEY"}]},
          "mark": {"type": "text", "fontSize": 15, "fontWeight": "bold", "baseline": "middle", "dy": 1, "color": "#111"},
          "encoding": {"y": {"field": "k", "type": "nominal", "axis": null, "scale": {"type": "band", "domain": ["KEY","1 = minimal/no integration (lightest shading)","2 = partial integration (medium shading)","3 = full integration (darker shading)","HR = human resources","PI = physical infrastructure","OI = opportunistic infection"], "paddingInner": 0, "paddingOuter": 0.08}}, "text": {"field": "k"}}},
         {"data": {"name": "key"},
          "mark": {"type": "text", "fontSize": 14, "align": "left", "baseline": "middle", "dx": 15, "dy": 1, "color": "#111"},
          "encoding": {"x": {"datum": "key", "type": "nominal", "bandPosition": 0, "axis": null, "scale": {"type": "band", "paddingInner": 0, "paddingOuter": 0}},
                       "y": {"field": "k", "type": "nominal", "axis": null}, "text": {"value": "•"}}},
         {"data": {"name": "key"},
          "mark": {"type": "text", "fontSize": 15, "align": "left", "baseline": "middle", "dx": 36, "dy": 1, "color": "#111"},
          "encoding": {"x": {"datum": "key", "type": "nominal", "bandPosition": 0, "axis": null},
                       "y": {"field": "k", "type": "nominal", "axis": null}, "text": {"field": "k"}}}
       ]}
    ]}
  ]
}
